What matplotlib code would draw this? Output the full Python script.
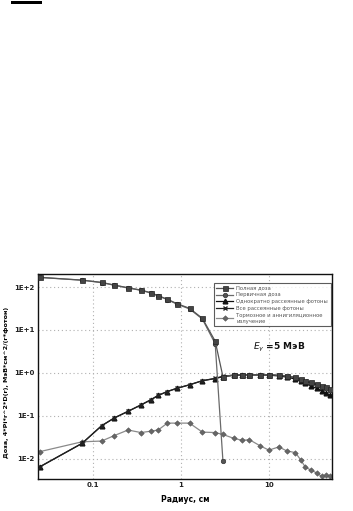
import matplotlib
matplotlib.use('Agg')
import matplotlib.pyplot as plt
import numpy as np
from matplotlib.patches import Rectangle

plt.rcParams['font.family'] = ['DejaVu Sans']

# радиус, см
radius = [0.025, 0.075, 0.125, 0.175, 0.25, 0.35, 0.45, 0.55, 0.7, 0.9,
          1.25, 1.75, 2.45, 3.0, 4.0, 5.0, 6.0, 8.0, 10, 13, 16, 20,
          23, 26, 30, 35, 40, 45, 50]

total_dose = [168, 145, 128, 111, 96, 85, 74, 63, 52, 41,
              32, 18.7, 5.5, 0.82, 0.90, 0.91, 0.91, 0.91, 0.91, 0.88, 0.85, 0.80,
              0.72, 0.66, 0.60, 0.56, 0.50, 0.47, 0.42]

primary_r = [0.025, 0.075, 0.125, 0.175, 0.25, 0.35, 0.45, 0.55, 0.7, 0.9,
             1.25, 1.75, 2.45, 3.0]
primary_dose = [167, 144, 127, 110, 95, 84, 73, 62, 51, 40,
                31, 18, 4.8, 0.009]

single_scat = [0.0066, 0.023, 0.059, 0.09, 0.128, 0.18, 0.235, 0.30, 0.37, 0.44,
               0.53, 0.66, 0.74, 0.82, 0.88, 0.90, 0.90, 0.90, 0.89, 0.85, 0.80, 0.72,
               0.64, 0.57, 0.50, 0.44, 0.38, 0.34, 0.30]

all_scat = [0.0066, 0.023, 0.059, 0.09, 0.128, 0.18, 0.235, 0.30, 0.37, 0.44,
            0.53, 0.66, 0.75, 0.84, 0.89, 0.91, 0.91, 0.91, 0.91, 0.88, 0.84, 0.78,
            0.70, 0.64, 0.58, 0.53, 0.48, 0.45, 0.40]

brems = [0.0148, 0.025, 0.026, 0.035, 0.047, 0.041, 0.044, 0.047, 0.068, 0.068,
         0.068, 0.042, 0.041, 0.037, 0.030, 0.027, 0.028, 0.020, 0.016, 0.019, 0.0153, 0.014,
         0.0095, 0.0064, 0.0055, 0.0047, 0.0039, 0.0042, 0.0039]

labels = ['Полная доза', 'Первичная доза', 'Однократно рассеянные фотоны',
          'Все рассеянные фотоны', 'Тормозное и аннигиляционное\nизлучение']
y_ticks = [1e-2, 1e-1, 1e0, 1e1, 1e2]
y_ticklabels = ['1E-2', '1E-1', '1E+0', '1E+1', '1E+2']
x_ticks = [0.1, 1, 10]
x_ticklabels = ['0.1', '1', '10']

fig = plt.figure(figsize=(3.53, 5.11), dpi=100)
# обрывок строки сверху страницы
fig.add_artist(Rectangle((0.031, 0.992), 0.088, 0.006, transform=fig.transFigure,
                         color='black', lw=0))

ax = fig.add_axes([0.108, 0.0626, 0.832, 0.401])

ax.plot(radius, total_dose, color='#555555', lw=0.9, marker='s', ms=3.6,
        mfc='#444444', mec='#222222', mew=0.5, label=labels[0], zorder=5)
ax.plot(primary_r, primary_dose, color='#6a6a6a', lw=0.9, marker='o', ms=3.2,
        mfc='#555555', mec='#333333', mew=0.5, label=labels[1], zorder=4)
ax.plot(radius, single_scat, color='#111111', lw=0.9, marker='^', ms=3.4,
        mfc='#111111', mec='#111111', label=labels[2], zorder=3)
ax.plot(radius, all_scat, color='#222222', lw=0.9, marker='x', ms=3.4, mew=1.0,
        label=labels[3], zorder=3)
ax.plot(radius, brems, color='#8a8a8a', lw=0.9, marker='D', ms=2.8,
        mfc='#666666', mec='#555555', mew=0.4, label=labels[4], zorder=2)

ax.set_xscale('log')
ax.set_yscale('log')
ax.set_xlim(0.0237, 52)
ax.set_ylim(0.0034, 200)
ax.set_xticks(x_ticks)
ax.set_xticklabels(x_ticklabels)
ax.set_yticks(y_ticks)
ax.set_yticklabels(y_ticklabels)
ax.minorticks_off()
ax.tick_params(length=0, pad=2.5, labelsize=5)
for t in ax.get_xticklabels() + ax.get_yticklabels():
    t.set_fontweight('bold')
    t.set_color('#222222')
ax.grid(True, which='major', color='#b0b0b0', ls=(0, (1, 2.5)), lw=0.8)
for s in ax.spines.values():
    s.set_color('#111111')
    s.set_linewidth(1.0)

ax.set_xlabel('Радиус, см', fontsize=5.5, fontweight='bold', labelpad=5)
ax.set_ylabel('Доза, 4*Pi*r^2*D(r), МэВ*см^2/(г*фотон)', fontsize=4.6,
              fontweight='bold')
ax.yaxis.set_label_coords(-0.1, 0.47)

leg = ax.legend(loc='upper right', bbox_to_anchor=(1.005, 0.97), fontsize=3.8,
                frameon=True, fancybox=False, edgecolor='#333333',
                handlelength=3.2, borderpad=0.5, labelspacing=0.35,
                handletextpad=0.6)
leg.get_frame().set_linewidth(0.8)
for t in leg.get_texts():
    t.set_color('#555555')

ax.text(0.82, 0.64, r'$E_\gamma$ =5 МэВ', transform=ax.transAxes, fontsize=6.5,
        fontweight='bold', ha='center', va='center', color='#111111')

fig.savefig('out.png', dpi=100)
